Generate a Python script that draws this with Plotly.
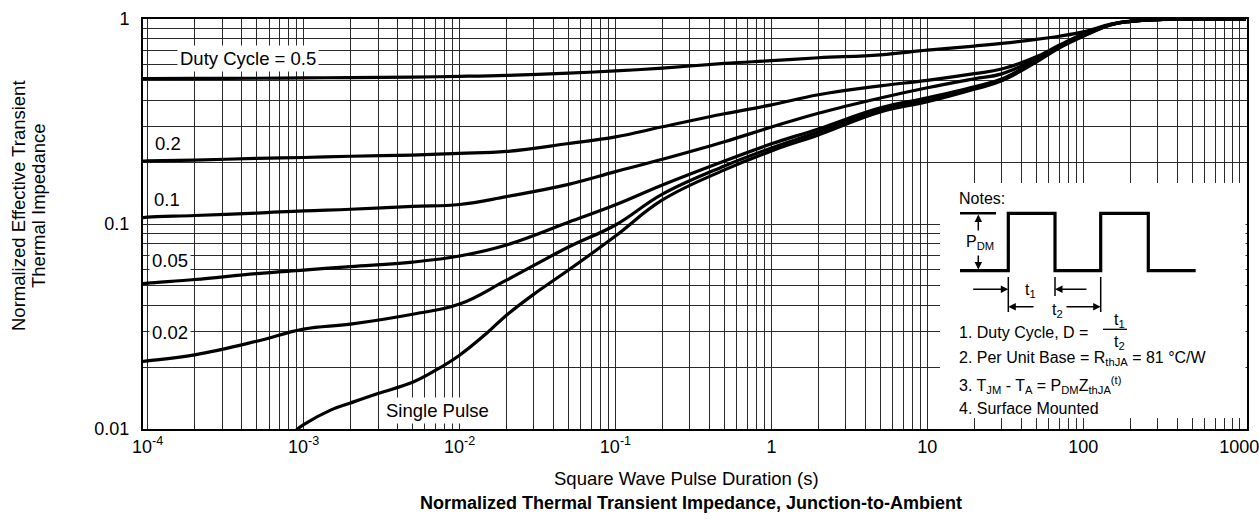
import plotly.graph_objects as go

# ---------------- data ----------------
t_duty = [9e-5, 1e-4, 2e-4, 5e-4, 1e-3, 2e-3, 5e-3, 1e-2, 2e-2, 5e-2, 0.1, 0.2, 0.5,
          1, 2, 5, 10, 20, 30, 50, 70, 100, 150, 200, 300, 500, 1100]
z_d050 = [0.512, 0.512, 0.513, 0.514, 0.516, 0.518, 0.521, 0.525, 0.531, 0.545, 0.558, 0.576, 0.607,
          0.626, 0.647, 0.669, 0.705, 0.738, 0.760, 0.795, 0.824, 0.865, 0.945, 0.978, 0.994, 0.999, 1.0]
z_d020 = [0.203, 0.203, 0.205, 0.209, 0.211, 0.214, 0.217, 0.221, 0.226, 0.247, 0.266, 0.298, 0.345,
          0.381, 0.427, 0.472, 0.502, 0.541, 0.570, 0.654, 0.745, 0.845, 0.940, 0.974, 0.994, 0.999, 1.0]
z_d010 = [0.107, 0.108, 0.110, 0.113, 0.116, 0.118, 0.122, 0.1245, 0.136, 0.156, 0.180, 0.207, 0.252,
          0.297, 0.347, 0.412, 0.462, 0.511, 0.540, 0.640, 0.738, 0.840, 0.940, 0.974, 0.994, 0.999, 1.0]
z_d005 = [0.051, 0.0515, 0.0536, 0.0573, 0.0596, 0.0620, 0.0652, 0.0698, 0.079, 0.102, 0.124, 0.155, 0.203,
          0.246, 0.291, 0.369, 0.4125, 0.467, 0.510, 0.626, 0.730, 0.832, 0.938, 0.974, 0.994, 0.999, 1.0]
z_d002 = [0.0213, 0.0215, 0.0230, 0.0268, 0.0307, 0.0325, 0.0363, 0.0407, 0.0532, 0.0772, 0.0989, 0.140, 0.192,
          0.235, 0.281, 0.360, 0.403, 0.462, 0.505, 0.624, 0.727, 0.828, 0.938, 0.974, 0.994, 0.999, 1.0]

t_single = [9e-4, 1e-3, 1.5e-3, 2e-3, 3e-3, 5e-3, 7e-3, 1e-2, 1.5e-2, 2e-2, 3e-2, 5e-2, 0.1, 0.2, 0.5,
            1, 2, 5, 10, 20, 30, 50, 70, 100, 150, 200, 300, 500, 1100]
z_single = [0.0099, 0.0105, 0.0124, 0.0134, 0.0149, 0.0169, 0.0193, 0.0229, 0.0294, 0.0359, 0.0455, 0.0596,
            0.0874, 0.131, 0.1836, 0.2273, 0.2721, 0.3524, 0.3945, 0.454, 0.500, 0.617, 0.722, 0.824, 0.936,
            0.974, 0.994, 0.999, 1.0]

x_tickvals = [1e-4, 1e-3, 1e-2, 1e-1, 1, 10, 100, 1000]
x_ticktext = ["10<sup>-4</sup>", "10<sup>-3</sup>", "10<sup>-2</sup>", "10<sup>-1</sup>", "1", "10", "100", "1000"]
y_tickvals = [0.01, 0.1, 1]
y_ticktext = ["0.01", "0.1", "1"]

curve_labels = ["Duty Cycle = 0.5", "0.2", "0.1", "0.05", "0.02", "Single Pulse"]

# ---------------- figure ----------------
W, H = 1259, 519
ML, MR, MT, MB = 143, 12, 19, 90
PW, PH = W - ML - MR, H - MT - MB


def px(x):
    return (x - ML) / PW


def py(y):
    return (H - MB - y) / PH


FONT = "Liberation Sans, Arial, Helvetica, sans-serif"
fig = go.Figure()

line_style = dict(color="black", width=3.2, shape="spline", smoothing=1.15)
for z in [z_d050, z_d020, z_d010, z_d005, z_d002]:
    fig.add_trace(go.Scatter(x=t_duty, y=z, mode="lines", line=line_style,
                             showlegend=False, hoverinfo="skip"))
fig.add_trace(go.Scatter(x=t_single, y=z_single, mode="lines", line=line_style,
                         showlegend=False, hoverinfo="skip"))

x_minor = [m * 10 ** e for e in range(-4, 3) for m in range(2, 10)]
y_minor = [m * 10 ** e for e in range(-2, 0) for m in range(2, 10)]

grid = dict(showgrid=True, gridcolor="#2a2a2a", gridwidth=1)
fig.update_xaxes(type="log", range=[-4.03, 3.05], tickvals=x_tickvals, ticktext=x_ticktext,
                 showline=True, mirror=True, linecolor="black", linewidth=2,
                 ticks="", ticklabelstandoff=0, ticklabeloverflow="allow", automargin=False,
                 tickfont=dict(family=FONT, size=18, color="black"),
                 minor=dict(tickvals=x_minor, showgrid=True, gridcolor="#2a2a2a", gridwidth=1, ticks=""),
                 zeroline=False, **grid)
fig.update_yaxes(type="log", range=[-2, 0], tickvals=y_tickvals, ticktext=y_ticktext,
                 showline=True, mirror=True, linecolor="black", linewidth=2,
                 ticks="", ticklabelstandoff=8, ticklabeloverflow="allow", automargin=False,
                 tickfont=dict(family=FONT, size=18, color="black"),
                 minor=dict(tickvals=y_minor, showgrid=True, gridcolor="#2a2a2a", gridwidth=1, ticks=""),
                 zeroline=False, **grid)

shapes = []
# notes box (white panel covering the grid)
shapes.append(dict(type="rect", xref="paper", yref="paper", x0=px(940), x1=px(1245.5),
                   y0=py(418), y1=py(183), fillcolor="white", line=dict(width=0), layer="above"))
# pulse waveform
wave_x = [960, 1008.3, 1008.3, 1055, 1055, 1100.7, 1100.7, 1148.3, 1148.3, 1195.7]
wave_y = [270.7, 270.7, 213.3, 213.3, 270.7, 270.7, 213.3, 213.3, 270.7, 270.7]
path = "M " + " L ".join(f"{px(a):.5f},{py(b):.5f}" for a, b in zip(wave_x, wave_y))
shapes.append(dict(type="path", xref="paper", yref="paper", path=path,
                   line=dict(color="black", width=3.2), layer="above"))
# P_DM reference line
shapes.append(dict(type="line", xref="paper", yref="paper", x0=px(960), x1=px(996),
                   y0=py(213.3), y1=py(213.3), line=dict(color="black", width=2.6), layer="above"))
# dimension lines for t1 / t2
for xx, y_a, y_b in [(1008.3, 277, 312), (1055, 277, 296), (1100.7, 277, 312)]:
    shapes.append(dict(type="line", xref="paper", yref="paper", x0=px(xx), x1=px(xx),
                       y0=py(y_a), y1=py(y_b), line=dict(color="black", width=1.5), layer="above"))
# fraction bar
shapes.append(dict(type="line", xref="paper", yref="paper", x0=px(1103), x1=px(1127),
                   y0=py(329.3), y1=py(329.3), line=dict(color="black", width=1.3), layer="above"))

ann = []


def text(s, x, y, size=18, xanchor="center", bg=None, angle=0, pad=1):
    d = dict(text=s, x=px(x), y=py(y), xref="paper", yref="paper", showarrow=False,
             xanchor=xanchor, yanchor="middle", textangle=angle,
             font=dict(family=FONT, size=size, color="black"), borderpad=pad)
    if bg:
        d["bgcolor"] = bg
    ann.append(d)


def arrow(tip_x, tip_y, tail_x, tail_y):
    ann.append(dict(text="", x=px(tip_x), y=py(tip_y), xref="paper", yref="paper",
                    ax=tail_x - tip_x, ay=tail_y - tip_y, showarrow=True,
                    arrowhead=2, arrowsize=1.0, arrowwidth=1.5, arrowcolor="black", standoff=0))


# curve labels
text(curve_labels[0], 248, 58.5, size=18.5, bg="white", pad=2)
text(curve_labels[1], 168, 143, size=18.5)
text(curve_labels[2], 167, 200, size=18.5)
text(curve_labels[3], 170, 260.5, size=18.5, bg="white", pad=2)
text(curve_labels[4], 170, 332.5, size=18.5, bg="white", pad=2)
text(curve_labels[5], 437.5, 410.5, size=18.5, bg="white", pad=2)

# axis titles and chart title
text("Normalized Effective Transient", 19, 206, size=18.5, angle=-90)
text("Thermal Impedance", 39, 206, size=18.5, angle=-90)
text("Square Wave Pulse Duration (s)", 686, 478, size=18.5)
text("<b>Normalized Thermal Transient Impedance, Junction-to-Ambient</b>", 691, 503, size=18)

# notes
text("Notes:", 957, 198, size=16, xanchor="left")
text("P<sub>DM</sub>", 980, 242, size=16)
text("t<sub>1</sub>", 1030, 291, size=16)
text("t<sub>2</sub>", 1057, 310, size=16)
text("1. Duty Cycle, D =", 957, 332, size=16, xanchor="left")
text("t<sub>1</sub>", 1119, 320, size=16)
text("t<sub>2</sub>", 1119, 342, size=16)
text("2. Per Unit Base = R<sub>thJA</sub> = 81 °C/W", 957, 358, size=16, xanchor="left")
text("3. T<sub>JM</sub> - T<sub>A</sub> = P<sub>DM</sub>Z<sub>thJA</sub><sup>(t)</sup>", 957, 385,
     size=16, xanchor="left")
text("4. Surface Mounted", 957, 408.5, size=16, xanchor="left")

arrow(978.3, 214.5, 978.3, 232)
arrow(978.3, 269.5, 978.3, 254)
arrow(1008.3, 289.3, 971.7, 289.3)
arrow(1055, 289.3, 1088, 289.3)
arrow(1008.3, 306.7, 1035, 306.7)
arrow(1100.7, 306.7, 1065, 306.7)

fig.update_layout(width=W, height=H, margin=dict(l=ML, r=MR, t=MT, b=MB, autoexpand=False),
                  paper_bgcolor="white", plot_bgcolor="white",
                  shapes=shapes, annotations=ann, showlegend=False,
                  font=dict(family=FONT, color="black"))

fig.write_html("out.html", config={"displayModeBar": False},
               post_script="document.body.style.margin='0';")
